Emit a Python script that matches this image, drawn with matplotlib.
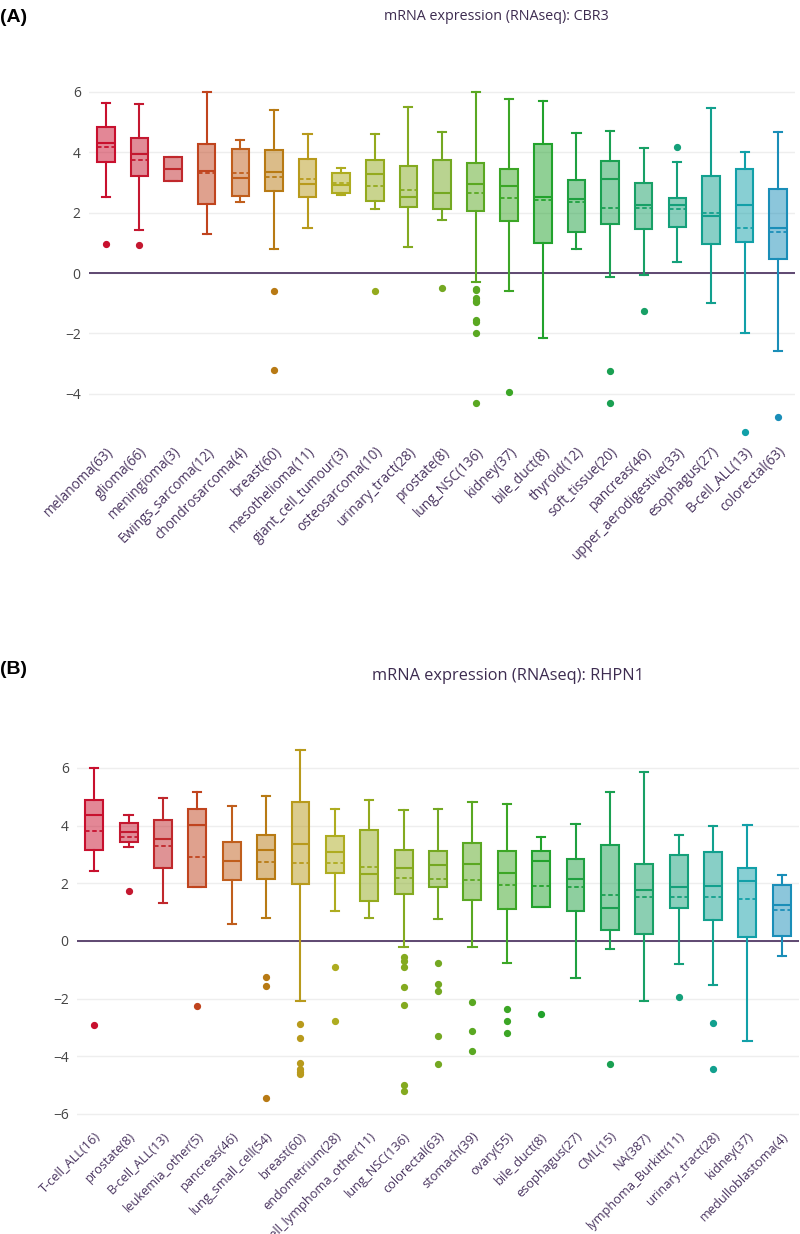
import matplotlib
matplotlib.use("Agg")
import matplotlib.pyplot as plt
from matplotlib.colors import to_rgba

# ---- panel A: CBR3 ----
cats_a = ["melanoma(63)", "glioma(66)", "meningioma(3)", "Ewings_sarcoma(12)",
          "chondrosarcoma(4)", "breast(60)", "mesothelioma(11)", "giant_cell_tumour(3)",
          "osteosarcoma(10)", "urinary_tract(28)", "prostate(8)", "lung_NSC(136)",
          "kidney(37)", "bile_duct(8)", "thyroid(12)", "soft_tissue(20)",
          "pancreas(46)", "upper_aerodigestive(33)", "esophagus(27)", "B-cell_ALL(13)",
          "colorectal(63)"]
lo_a = [2.51, 1.41, 3.06, 1.28, 2.34, 0.78, 1.50, 2.57, 2.11, 0.85, 1.77,
        -0.29, -0.58, -2.15, 0.81, -0.14, -0.08, 0.36, -1.00, -1.97, -2.57]
q1_a = [3.68, 3.20, 3.06, 2.28, 2.55, 2.73, 2.52, 2.64, 2.40, 2.19, 2.12,
        2.05, 1.74, 0.99, 1.35, 1.64, 1.47, 1.53, 0.96, 1.02, 0.45]
med_a = [4.30, 3.94, 3.45, 3.38, 3.16, 3.36, 2.94, 2.90, 3.29, 2.51, 2.64,
         2.95, 2.88, 2.52, 2.44, 3.10, 2.27, 2.25, 1.88, 2.24, 1.50]
mean_a = [4.19, 3.76, 3.45, 3.33, 3.30, 3.17, 3.12, 2.97, 2.87, 2.76, 2.66,
          2.64, 2.47, 2.41, 2.35, 2.16, 2.16, 2.12, 2.00, 1.49, 1.35]
q3_a = [4.83, 4.46, 3.85, 4.26, 4.11, 4.06, 3.79, 3.33, 3.75, 3.55, 3.73,
        3.63, 3.44, 4.29, 3.08, 3.72, 2.98, 2.47, 3.22, 3.43, 2.77]
hi_a = [5.64, 5.61, 3.85, 6.00, 4.41, 5.41, 4.59, 3.47, 4.61, 5.50, 4.66,
        6.00, 5.75, 5.70, 4.65, 4.71, 4.15, 3.68, 5.47, 4.00, 4.66]
out_a = [[0.95], [0.93], [], [], [], [-0.61, -3.22], [], [], [-0.60], [], [-0.51],
         [-0.53, -0.57, -0.82, -0.91, -0.97, -1.55, -1.63, -2.00, -4.32],
         [-3.95], [], [], [-3.26, -4.29], [-1.25], [4.17], [], [-5.25], [-4.78]]

# ---- panel B: RHPN1 ----
cats_b = ["T-cell_ALL(16)", "prostate(8)", "B-cell_ALL(13)", "leukemia_other(5)",
          "pancreas(46)", "lung_small_cell(54)", "breast(60)", "endometrium(28)",
          "T-cell_lymphoma_other(11)", "lung_NSC(136)", "colorectal(63)", "stomach(39)",
          "ovary(55)", "bile_duct(8)", "esophagus(27)", "CML(15)", "NA(387)",
          "lymphoma_Burkitt(11)", "urinary_tract(28)", "kidney(37)", "medulloblastoma(4)"]
lo_b = [2.41, 3.25, 1.30, 1.86, 0.59, 0.81, -2.10, 1.04, 0.81, -0.21, 0.75,
        -0.21, -0.77, 1.17, -1.27, -0.27, -2.07, -0.80, -1.52, -3.47, -0.53]
q1_b = [3.16, 3.43, 2.54, 1.86, 2.10, 2.13, 1.98, 2.35, 1.40, 1.64, 1.88,
        1.41, 1.11, 1.17, 1.04, 0.37, 0.23, 1.13, 0.74, 0.12, 0.18]
med_b = [4.37, 3.78, 3.53, 4.03, 2.77, 3.16, 3.35, 3.08, 2.32, 2.53, 2.64,
         2.65, 2.37, 2.78, 2.16, 1.14, 1.77, 1.86, 1.90, 2.07, 1.25]
mean_b = [3.81, 3.59, 3.28, 2.90, 2.78, 2.72, 2.70, 2.69, 2.57, 2.17, 2.16,
          2.11, 1.95, 1.89, 1.86, 1.58, 1.53, 1.52, 1.52, 1.44, 1.07]
q3_b = [4.89, 4.08, 4.19, 4.57, 3.44, 3.67, 4.82, 3.65, 3.83, 3.16, 3.13,
        3.39, 3.12, 3.12, 2.84, 3.33, 2.68, 2.98, 3.08, 2.54, 1.94]
hi_b = [5.99, 4.35, 4.94, 5.15, 4.67, 5.02, 6.63, 4.59, 4.90, 4.53, 4.57,
        4.82, 4.74, 3.59, 4.04, 5.17, 5.85, 3.68, 4.00, 4.02, 2.27]
out_b = [[-2.93], [1.74], [], [-2.27], [], [-1.26, -1.55, -5.45],
         [-2.88, -3.38, -4.23, -4.45, -4.55, -4.62], [-0.89, -2.79], [],
         [-0.57, -0.68, -0.89, -1.60, -2.22, -5.00, -5.20],
         [-0.78, -1.51, -1.72, -3.29, -4.27], [-2.11, -3.12, -3.83],
         [-2.35, -2.77, -3.21], [-2.54], [], [-4.27], [], [-1.94], [-2.85, -4.45],
         [], []]

palette = ["#c8102e", "#c41830", "#c0282c", "#c0441e", "#c05e1c", "#b87a14",
           "#b89a1c", "#aeac20", "#94aa1e", "#84aa20", "#74a822", "#5aa822",
           "#3ca626", "#22a22c", "#1ea040", "#1aa052", "#18a066", "#14a07a",
           "#12a08e", "#12a0a8", "#1a8eb8"]

font = ["Open Sans", "DejaVu Sans"]
plt.rcParams["font.family"] = font

fig = plt.figure(figsize=(8, 12.34), dpi=100)


def draw_panel(ax, cats, lo, q1, med, mean, q3, hi, outs, ylim, xfs):
    stats = []
    for i in range(len(cats)):
        stats.append(dict(whislo=lo[i], q1=q1[i], med=med[i], mean=mean[i],
                          q3=q3[i], whishi=hi[i], fliers=outs[i], label=cats[i]))
    pos = list(range(len(cats)))
    ax.axhline(0, color="#523a66", lw=1.3, zorder=1)
    bp = ax.bxp(stats, positions=pos, widths=0.52, showmeans=True, meanline=True,
                patch_artist=True, showfliers=True, zorder=3)
    for i, c in enumerate(palette[:len(cats)]):
        bp["boxes"][i].set(facecolor=to_rgba(c, 0.5), edgecolor=c, linewidth=1.5)
        bp["medians"][i].set(color=c, linewidth=1.5)
        bp["means"][i].set(color=c, linewidth=1.3, linestyle=(0, (2.5, 1.5)))
        for w in bp["whiskers"][2 * i:2 * i + 2]:
            w.set(color=c, linewidth=1.5)
        for cap in bp["caps"][2 * i:2 * i + 2]:
            cap.set(color=c, linewidth=1.5)
            x0, x1 = cap.get_xdata()
            mid = (x0 + x1) / 2
            cap.set_xdata([mid - 0.12, mid + 0.12])
        bp["fliers"][i].set(marker="o", markerfacecolor=c, markeredgecolor=c,
                            markersize=4.2, linestyle="none")
    ax.set_xlim(-0.5, len(cats) - 0.5)
    ax.set_ylim(*ylim)
    ax.set_yticks([t for t in range(-6, 8, 2) if ylim[0] < t < ylim[1]])
    ax.grid(axis="y", color="#eeeeee", lw=1.0, zorder=0)
    ax.set_axisbelow(True)
    for s in ax.spines.values():
        s.set_visible(False)
    ax.tick_params(axis="y", length=0, labelsize=10, labelcolor="#444444", pad=6)
    ax.tick_params(axis="x", length=0, pad=3)
    ax.set_xticks(pos)
    ax.set_xticklabels(cats, rotation=45, ha="right", rotation_mode="anchor",
                       fontsize=xfs, color="#4a3560")


ax_a = fig.add_axes([89 / 800, 1 - 440 / 1234, 706 / 800, 365 / 1234])
draw_panel(ax_a, cats_a, lo_a, q1_a, med_a, mean_a, q3_a, hi_a, out_a,
           (-5.53, 6.56), 9.8)

ax_b = fig.add_axes([77 / 800, 1 - 1125.5 / 1234, 722 / 800, 386.5 / 1234])
draw_panel(ax_b, cats_b, lo_b, q1_b, med_b, mean_b, q3_b, hi_b, out_b,
           (-6.4, 7.0), 9.2)

fig.text(0.0, 1 - 17 / 1234, "(A)", fontsize=14, fontweight="bold",
         family=["Liberation Sans", "DejaVu Sans"], va="center", ha="left")
fig.text(496 / 800, 1 - 17 / 1234, "mRNA expression (RNAseq): CBR3", fontsize=10.3,
         color="#3d2c50", va="center", ha="center")
fig.text(0.0, 1 - 669 / 1234, "(B)", fontsize=14, fontweight="bold",
         family=["Liberation Sans", "DejaVu Sans"], va="center", ha="left")
fig.text(508 / 800, 1 - 676 / 1234, "mRNA expression (RNAseq): RHPN1", fontsize=11.8,
         color="#3d2c50", va="center", ha="center")

fig.savefig("out.png", dpi=100, facecolor="white")
